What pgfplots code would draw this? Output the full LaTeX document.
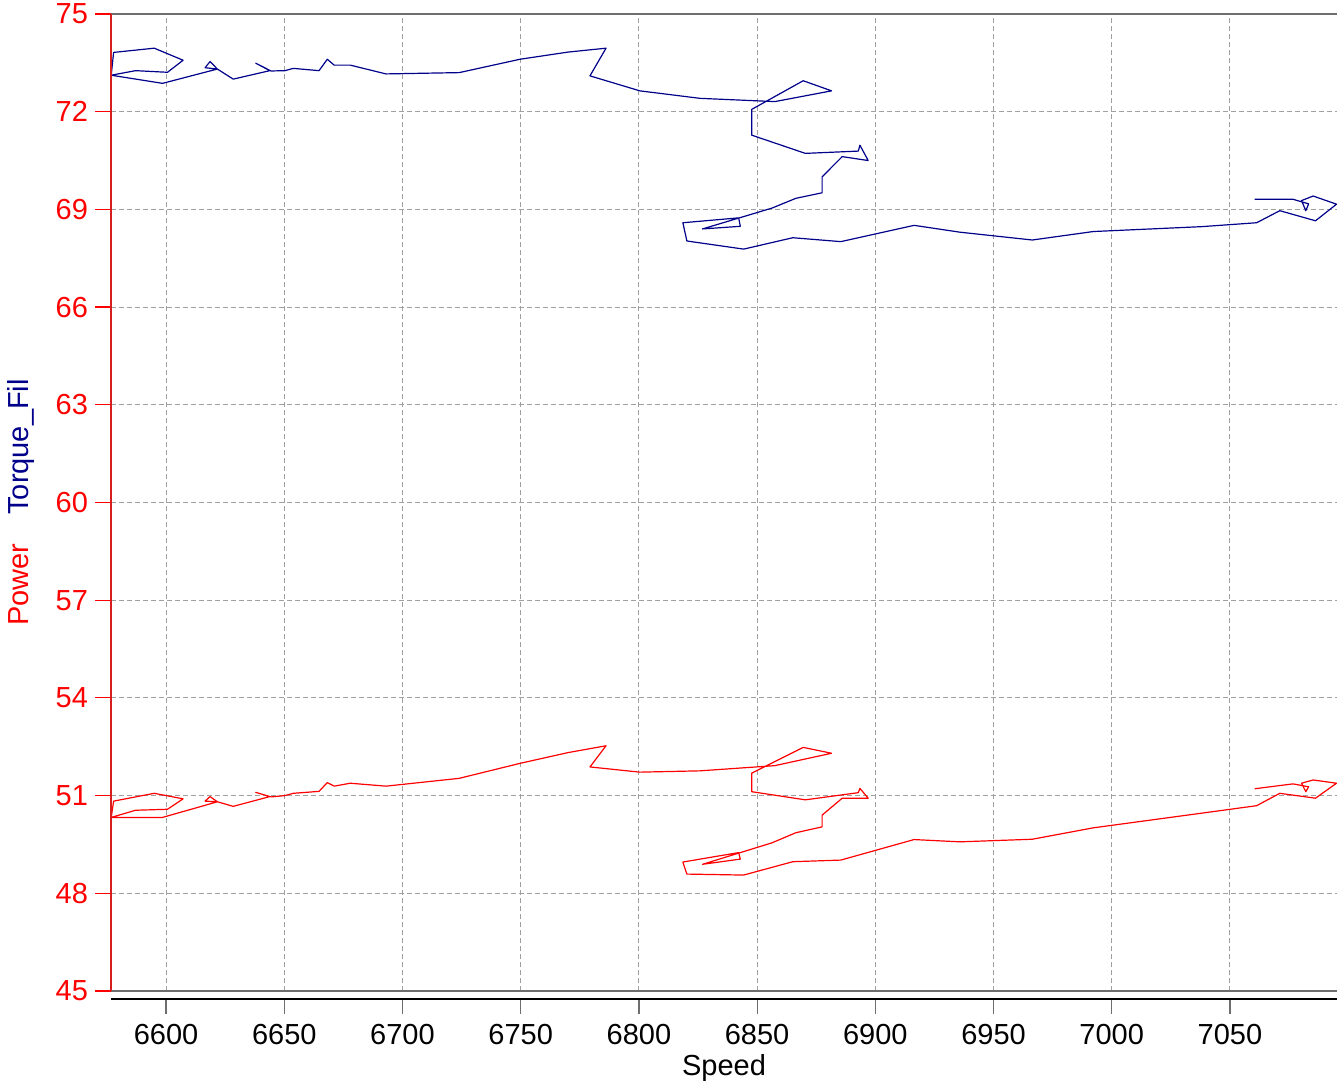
\documentclass[border=0pt]{standalone}
\usepackage{fontspec}
\setmainfont{Liberation Sans}
\usepackage{pgfplots}
\usepackage{pgfplotstable}
\pgfplotsset{compat=1.18}
\definecolor{navyline}{RGB}{0,0,139}
\definecolor{gridgray}{RGB}{160,160,160}
\definecolor{boxgray}{RGB}{110,110,110}
\definecolor{axred}{RGB}{215,30,30}

\pgfplotstableread{
speed torque power
6576.8 73.12 50.33
6587.1 73.26 50.55
6600.6 73.21 50.58
6607.2 73.58 50.90
6595.0 73.95 51.07
6577.8 73.82 50.83
6576.8 73.12 50.33
6598.5 72.87 50.33
6621.7 73.31 50.81
6616.5 73.35 50.83
6618.6 73.54 50.97
6621.7 73.31 50.81
6628.4 73.00 50.67
6643.9 73.26 50.97
6637.9 73.49 51.10
6644.4 73.25 50.96
6650.3 73.26 51.00
6653.8 73.33 51.07
6664.7 73.26 51.13
6668.2 73.61 51.40
6671.1 73.43 51.29
6677.9 73.43 51.38
6693.0 73.16 51.29
6724.0 73.20 51.53
6749.7 73.61 51.99
6770.0 73.83 52.32
6786.1 73.95 52.53
6779.3 73.10 51.88
6800.4 72.64 51.72
6825.8 72.41 51.76
6857.5 72.31 51.92
6881.5 72.64 52.30
6869.5 72.95 52.48
6847.7 72.07 51.69
6847.7 71.28 51.12
6870.4 70.72 50.87
6892.8 70.79 51.09
6893.5 70.97 51.22
6897.0 70.50 50.92
6886.0 70.62 50.92
6877.5 70.00 50.40
6877.5 69.51 50.04
6866.4 69.34 49.86
6856.3 69.04 49.55
6826.9 68.40 48.89
6842.9 68.48 49.05
6842.2 68.74 49.25
6818.6 68.59 48.96
6820.3 68.03 48.59
6844.3 67.78 48.56
6865.1 68.13 48.97
6885.4 68.01 49.02
6916.4 68.51 49.65
6935.8 68.30 49.58
6966.4 68.06 49.66
6992.2 68.32 50.01
7038.0 68.47 50.46
7061.3 68.59 50.69
7071.1 68.96 51.07
7086.2 68.65 50.92
7095.1 69.16 51.38
7085.2 69.41 51.48
7080.3 69.27 51.38
7082.1 68.96 51.12
7083.3 69.17 51.27
7076.7 69.31 51.36
7060.5 69.31 51.21
}\datatable

\begin{document}
\begin{tikzpicture}
\begin{axis}[
  at={(0pt,0pt)}, anchor=south west,
  width=613pt, height=488.5pt, scale only axis,
  xmin=6576.7, xmax=7095.3, ymin=45, ymax=75,
  xtick={6600,6650,...,7050}, xticklabels={},
  ytick={45,48,...,75},
  xtick pos=bottom, ytick pos=left,
  grid=major,
  grid style={gridgray, dash pattern=on 2.5pt off 1.5pt, line width=0.5pt},
  axis line style={draw=none},
  x tick style={draw=none},
  y tick style={red, line width=0.6pt},
  tick align=outside,
  major tick length=8pt,
  yticklabel style={red, font=\fontsize{14.5}{16}\selectfont},
  /pgf/number format/assume math mode=true,
  ylabel={\textcolor{red}{Power}\hspace{1.0em}\textcolor{navyline}{Torque\_Fil}},
  ylabel style={font=\fontsize{14.5}{16}\selectfont, at={(axis description cs:-0.0735,0.5)}, anchor=center},
  clip=false,
]
\draw[boxgray, line width=0.6pt] (rel axis cs:0,1) -- (rel axis cs:1,1);
\draw[boxgray, line width=0.6pt] (rel axis cs:0,0) -- (rel axis cs:1,0);
\addplot[navyline, line width=0.6pt, line join=round, mark=none] table[x=speed, y=torque] {\datatable};
\addplot[red, line width=0.6pt, line join=round, mark=none] table[x=speed, y=power] {\datatable};
\draw[axred, line width=0.8pt] (rel axis cs:0,0) -- (rel axis cs:0,1);
\end{axis}
\begin{axis}[
  at={(0pt,-4pt)}, anchor=south west,
  width=613pt, height=488.5pt, scale only axis,
  xmin=6576.7, xmax=7095.3, ymin=0, ymax=1,
  axis x line*=bottom, axis y line=none,
  ytick=\empty,
  xtick={6600,6650,...,7050},
  x tick style={boxgray, line width=0.6pt},
  tick align=outside, major tick length=7.5pt,
  x axis line style={black, line width=0.6pt, -},
  xticklabel style={black, font=\fontsize{14.5}{16}\selectfont, yshift=-1.5pt},
  /pgf/number format/assume math mode=true,
  /pgf/number format/1000 sep={},
  xlabel={Speed},
  xlabel style={font=\fontsize{14.5}{16}\selectfont, at={(axis description cs:0.5,-0.0706)}, anchor=center},
]
\end{axis}
\pgfresetboundingbox
\useasboundingbox (-55.5pt,-47.5pt) rectangle (613pt,495.5pt);
\end{tikzpicture}
\end{document}
